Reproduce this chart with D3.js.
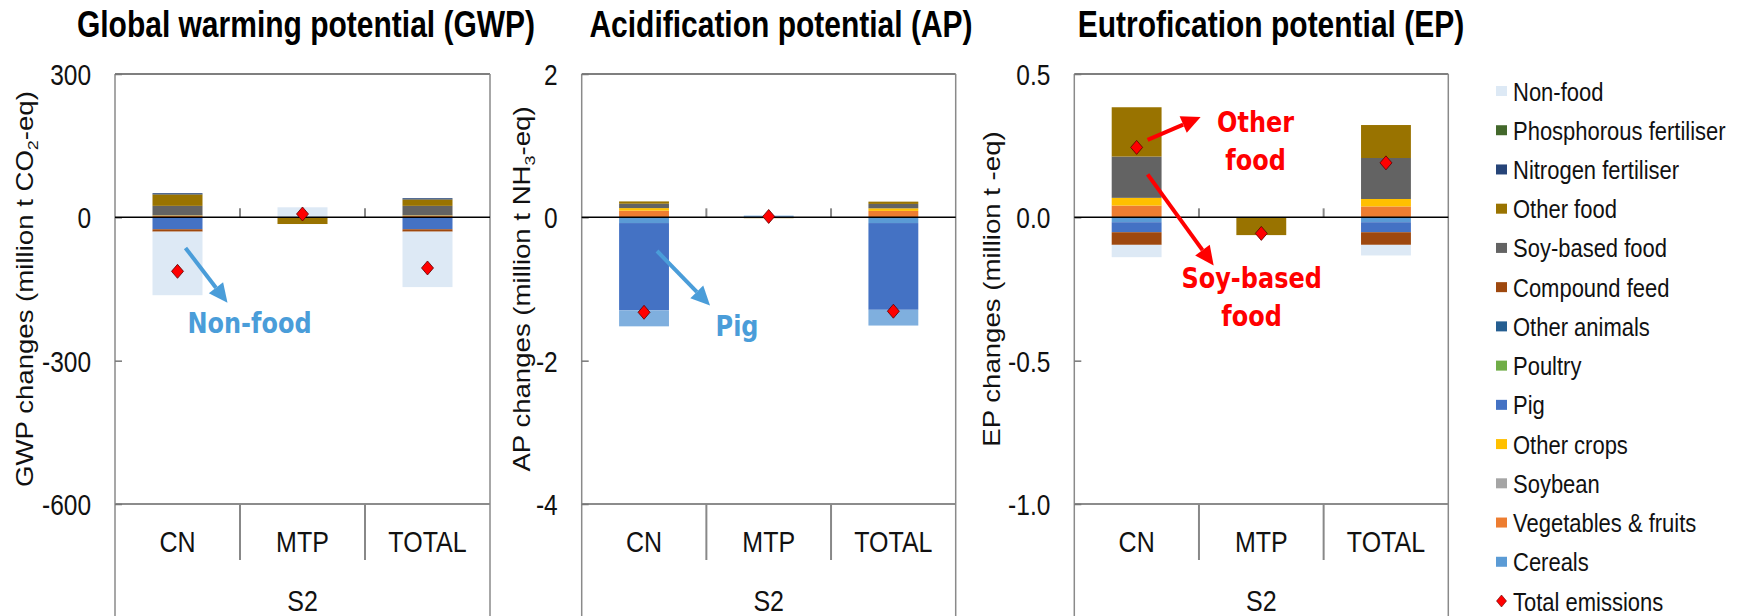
<!DOCTYPE html>
<html>
<head>
<meta charset="utf-8">
<script src="https://cdn.jsdelivr.net/npm/d3@7"></script>
<style>
    html, body { margin: 0; padding: 0; background: #fff; }
    svg { display: block; }
</style>
</head>
<body>
<svg id="chart" width="1744" height="616"></svg>
<script>
'use strict';

var categories = [ 'CN', 'MTP', 'TOTAL' ],
    groupLabel = 'S2';

// stacking order, first one sits next to the zero line
var seriesNames = [ 'Cereals', 'Vegetables & fruits', 'Soybean', 'Other crops', 'Pig', 'Poultry',
    'Other animals', 'Compound feed', 'Soy-based food', 'Other food', 'Nitrogen fertiliser',
    'Phosphorous fertiliser', 'Non-food' ];
var seriesColors = [ '#5b9bd5', '#ed7d31', '#a5a5a5', '#ffc000', '#4472c4', '#70ad47',
    '#255e91', '#9e480e', '#636363', '#997300', '#264478', '#43682b', '#dde9f5' ];

// one row per series (same order as seriesNames), columns CN, MTP, TOTAL
var gwpValues = [
    [ -1, 0, -1 ],
    [ 3, 0, 3 ],
    [ 0, 0, 0 ],
    [ 1, 0, 1 ],
    [ -24, 0, -24 ],
    [ 0, 0, 0 ],
    [ 0, 0, 0 ],
    [ -5, 0, -5 ],
    [ 20, 0, 20 ],
    [ 24, -14, 13.5 ],
    [ 2.5, 0, 2.5 ],
    [ 0, 0, 0 ],
    [ -133, 21, -116 ]
];
var gwpTotals = [ -113, 7, -106 ];
var gwpTicks = [ 300, 0, -300, -600 ];

var apValues = [
    [ -0.08, 0, -0.08 ],
    [ 0.093, 0, 0.09 ],
    [ 0, 0, 0 ],
    [ 0.036, 0, 0.036 ],
    [ -1.218, 0, -1.21 ],
    [ 0, 0, 0 ],
    [ 0, 0, 0 ],
    [ 0, 0, 0 ],
    [ 0.061, 0, 0.061 ],
    [ 0.032, -0.012, 0.032 ],
    [ 0, 0, 0 ],
    [ 0, 0, 0 ],
    [ -0.223, 0.024, -0.22 ]
];
var apTotals = [ -1.325, 0.012, -1.31 ];
var apTicks = [ 2, 0, -2, -4 ];

var epValues = [
    [ -0.017, 0, -0.017 ],
    [ 0.041, 0, 0.038 ],
    [ 0, 0, 0 ],
    [ 0.027, 0, 0.026 ],
    [ -0.035, 0, -0.035 ],
    [ 0, 0, 0 ],
    [ 0, 0, 0 ],
    [ -0.044, 0, -0.044 ],
    [ 0.144, 0, 0.143 ],
    [ 0.172, -0.062, 0.115 ],
    [ 0, 0, 0 ],
    [ 0, 0, 0 ],
    [ -0.043, 0, -0.037 ]
];
var epTotals = [ 0.244, -0.056, 0.19 ];
var epTicks = [ 0.5, 0, -0.5, -1 ];

var totalName = 'Total emissions';

// the picture is a bit taller than wide, text gets the same stretch
var SY = 1.2,
    FONT = '"Liberation Sans", Arial, sans-serif',
    NOTE_FONT = '"DejaVu Sans", Verdana, sans-serif',
    TOP = 74,
    BOTTOM = 504;

var panels = [
    {
        title: 'Global warming potential (GWP)', titleX: 306,
        left: 115, right: 490, domain: [ -600, 300 ], ticks: gwpTicks,
        format: d3.format( 'd' ), values: gwpValues, totals: gwpTotals,
        labelX: 25, label: [ [ 'GWP changes (million t CO', '' ], [ '2', 'sub' ], [ '-eq)', '' ] ],
        noteColor: '#4a9dd9',
        arrows: [ { cat: 'CN', dx0: 8, v0: -64, dx1: 50, v1: -179 } ],
        notes: [ { cat: 'CN', dx: 72, v: -220, text: 'Non-food' } ]
    },
    {
        title: 'Acidification potential (AP)', titleX: 781,
        left: 581.7, right: 955.7, domain: [ -4, 2 ], ticks: apTicks,
        format: d3.format( 'd' ), values: apValues, totals: apTotals,
        colorOverride: { 'Non-food': '#7fafde' },
        labelX: 522, label: [ [ 'AP changes (million t NH', '' ], [ '3', 'sub' ], [ '-eq)', '' ] ],
        noteColor: '#4a9dd9',
        arrows: [ { cat: 'CN', dx0: 13, v0: -0.47, dx1: 66, v1: -1.23 } ],
        notes: [ { cat: 'CN', dx: 93, v: -1.51, text: 'Pig' } ]
    },
    {
        title: 'Eutrofication potential (EP)', titleX: 1271,
        left: 1074.3, right: 1448.3, domain: [ -1, 0.5 ], ticks: epTicks,
        format: d3.format( '.1f' ), values: epValues, totals: epTotals,
        labelX: 992, label: [ [ 'EP changes (million t -eq)', '' ] ],
        noteColor: '#ff0000',
        arrows: [
            { cat: 'CN', dx0: 11, v0: 0.27, dx1: 64, v1: 0.35 },
            { cat: 'CN', dx0: 11, v0: 0.15, dx1: 77, v1: -0.168 }
        ],
        notes: [
            { cat: 'CN', dx: 119, v: 0.334, text: 'Other' },
            { cat: 'CN', dx: 119, v: 0.203, text: 'food' },
            { cat: 'CN', dx: 115, v: -0.212, text: 'Soy-based' },
            { cat: 'CN', dx: 115, v: -0.343, text: 'food' }
        ]
    }
];

var svg = d3.select( '#chart' );

svg.append( 'rect' )
    .attr( 'width', 1744 )
    .attr( 'height', 616 )
    .attr( 'fill', '#fff' );

function fixMinus( s ){
    return String( s ).replace( '\u2212', '-' );
}

function stretchText( parent, x, y, str, size, opts ){
    opts = opts || {};
    var g = parent.append( 'g' )
            .attr( 'transform', 'translate(' + x + ',' + y + ') scale(1,' + SY + ')' + ( opts.rotate ? ' rotate(-90)' : '' ) ),
        t = g.append( 'text' )
            .attr( 'text-anchor', opts.anchor || 'middle' )
            .attr( 'dy', '0.36em' )
            .style( 'font-family', opts.family || FONT )
            .style( 'font-size', size + 'px' )
            .style( 'font-weight', opts.weight || 'normal' )
            .style( 'fill', opts.color || '#111' );

    if ( str !== null ){
        t.text( str );
    }
    return t;
}

function diamond( w, h ){
    return 'M0,' + ( -h ) + 'L' + w + ',0L0,' + h + 'L' + ( -w ) + ',0Z';
}

function arrow( parent, x0, y0, x1, y1, color, width ){
    var ang = Math.atan2( y1 - y0, x1 - x0 ),
        headLen = 19,
        headHalf = 9,
        bx = x1 - Math.cos( ang ) * headLen,
        by = y1 - Math.sin( ang ) * headLen,
        px = -Math.sin( ang ) * headHalf,
        py = Math.cos( ang ) * headHalf;

    parent.append( 'line' )
        .attr( 'x1', x0 ).attr( 'y1', y0 )
        .attr( 'x2', bx ).attr( 'y2', by )
        .attr( 'stroke', color )
        .attr( 'stroke-width', width );

    parent.append( 'polygon' )
        .attr( 'points', x1 + ',' + y1 + ' ' + ( bx + px ) + ',' + ( by + py ) + ' ' + ( bx - px ) + ',' + ( by - py ) )
        .attr( 'fill', color );
}

function drawPanel( p ){
    var g = svg.append( 'g' ),
        x = d3.scaleBand()
            .domain( categories )
            .range( [ p.left, p.right ] )
            .paddingInner( 0.6 )
            .paddingOuter( 0.3 ),
        step = x.step(),
        y = d3.scaleLinear()
            .domain( p.domain )
            .range( [ BOTTOM, TOP ] ),
        rows = categories.map( function( c, ci ){
            var row = { cat: c };
            seriesNames.forEach( function( s, si ){
                row[s] = p.values[si][ci];
            });
            return row;
        }),
        stacked = d3.stack()
            .keys( seriesNames )
            .offset( d3.stackOffsetDiverging )( rows ),
        override = p.colorOverride || {},
        center = function( c ){ return x( c ) + x.bandwidth() / 2; };

    // title
    stretchText( g, p.titleX, 24, p.title, 30, { weight: 'bold', color: '#000' } );

    // stacked bars
    g.append( 'g' )
        .selectAll( 'g' )
        .data( stacked )
        .join( 'g' )
            .attr( 'fill', function( d, i ){ return override[d.key] || seriesColors[i]; } )
        .selectAll( 'rect' )
        .data( function( d ){ return d; } )
        .join( 'rect' )
            .attr( 'x', function( d ){ return x( d.data.cat ); } )
            .attr( 'width', x.bandwidth() )
            .attr( 'y', function( d ){ return y( Math.max( d[0], d[1] ) ); } )
            .attr( 'height', function( d ){ return Math.abs( y( d[0] ) - y( d[1] ) ); } );

    // plot frame, side lines run down through the category box
    g.append( 'line' )
        .attr( 'x1', p.left ).attr( 'x2', p.right )
        .attr( 'y1', TOP ).attr( 'y2', TOP )
        .attr( 'stroke', '#555' ).attr( 'stroke-width', 1.5 );
    g.append( 'line' )
        .attr( 'x1', p.left ).attr( 'x2', p.right )
        .attr( 'y1', BOTTOM ).attr( 'y2', BOTTOM )
        .attr( 'stroke', '#666' ).attr( 'stroke-width', 1.5 );
    [ p.left, p.right ].forEach( function( xx ){
        g.append( 'line' )
            .attr( 'x1', xx ).attr( 'x2', xx )
            .attr( 'y1', TOP ).attr( 'y2', 616 )
            .attr( 'stroke', '#8a8a8a' ).attr( 'stroke-width', 1.5 );
    });

    // y axis: inward ticks, labels on the left
    var yAxis = g.append( 'g' )
        .attr( 'transform', 'translate(' + p.left + ',0)' )
        .call( d3.axisLeft( y )
            .tickValues( p.ticks )
            .tickSize( -7 )
            .tickPadding( 24 )
            .tickFormat( function( d ){ return fixMinus( p.format( d ) ); } ) );

    yAxis.select( '.domain' ).remove();
    yAxis.selectAll( '.tick line' )
        .attr( 'stroke', '#777' )
        .attr( 'stroke-width', 1.5 );
    yAxis.selectAll( '.tick text' )
        .attr( 'dy', '0.36em' )
        .attr( 'transform', 'scale(1,' + SY + ')' )
        .style( 'font-family', FONT )
        .style( 'font-size', '24.5px' )
        .style( 'fill', '#111' );

    // y axis title
    var lbl = stretchText( g, p.labelX, ( TOP + BOTTOM ) / 2, null, 23, { rotate: true } );
    p.label.forEach( function( part ){
        var ts = lbl.append( 'tspan' ).text( part[0] );
        if ( part[1] === 'sub' ){
            ts.style( 'font-size', '15px' ).attr( 'dy', 5 );
        }else if ( lbl.selectAll( 'tspan' ).size() > 1 ){
            ts.attr( 'dy', -5 );
        }
    });

    // category separators and small ticks on the zero line
    var bounds = categories.slice( 1 ).map( function( c ){ return x( c ) - ( step - x.bandwidth() ) / 2; } );

    bounds.forEach( function( bx ){
        g.append( 'line' )
            .attr( 'x1', bx ).attr( 'x2', bx )
            .attr( 'y1', BOTTOM ).attr( 'y2', 560 )
            .attr( 'stroke', '#888' ).attr( 'stroke-width', 2 );
        g.append( 'line' )
            .attr( 'x1', bx ).attr( 'x2', bx )
            .attr( 'y1', y( 0 ) - 9 ).attr( 'y2', y( 0 ) )
            .attr( 'stroke', '#888' ).attr( 'stroke-width', 2 );
    });

    categories.forEach( function( c ){
        stretchText( g, center( c ), 541, c, 25 );
    });
    stretchText( g, ( p.left + p.right ) / 2, 600, groupLabel, 25 );

    // zero line
    g.append( 'line' )
        .attr( 'x1', p.left ).attr( 'x2', p.right )
        .attr( 'y1', y( 0 ) ).attr( 'y2', y( 0 ) )
        .attr( 'stroke', '#000' ).attr( 'stroke-width', 1.5 );

    // total emissions markers
    g.append( 'g' )
        .selectAll( 'path' )
        .data( p.totals )
        .join( 'path' )
            .attr( 'transform', function( d, i ){ return 'translate(' + center( categories[i] ) + ',' + y( d ) + ')'; } )
            .attr( 'd', diamond( 6, 7 ) )
            .attr( 'fill', '#ff0000' )
            .attr( 'stroke', '#5a0000' )
            .attr( 'stroke-width', 0.8 );

    // annotations
    p.arrows.forEach( function( a ){
        arrow( g, center( a.cat ) + a.dx0, y( a.v0 ), center( a.cat ) + a.dx1, y( a.v1 ), p.noteColor, 4 );
    });
    p.notes.forEach( function( n ){
        stretchText( g, center( n.cat ) + n.dx, y( n.v ), n.text, 24, { weight: 'bold', family: NOTE_FONT, color: p.noteColor } );
    });
}

panels.forEach( drawPanel );

// legend, reversed series order like the source
var legendItems = seriesNames.map( function( s, i ){
        return { name: s, color: seriesColors[i] };
    }).reverse().concat( [ { name: totalName, marker: true } ] ),
    ly = d3.scaleLinear()
        .domain( [ 0, legendItems.length - 1 ] )
        .range( [ 91, 601 ] ),
    legend = svg.append( 'g' );

legendItems.forEach( function( item, i ){
    var yy = ly( i );
    if ( item.marker ){
        legend.append( 'path' )
            .attr( 'transform', 'translate(1501.5,' + yy + ')' )
            .attr( 'd', diamond( 5, 6 ) )
            .attr( 'fill', '#ff0000' )
            .attr( 'stroke', '#5a0000' )
            .attr( 'stroke-width', 0.6 );
    }else{
        legend.append( 'rect' )
            .attr( 'x', 1496 )
            .attr( 'y', yy - 5 )
            .attr( 'width', 11 )
            .attr( 'height', 10 )
            .attr( 'fill', item.color );
    }
    stretchText( legend, 1513, yy, item.name, 22, { anchor: 'start' } );
});
</script>
</body>
</html>
